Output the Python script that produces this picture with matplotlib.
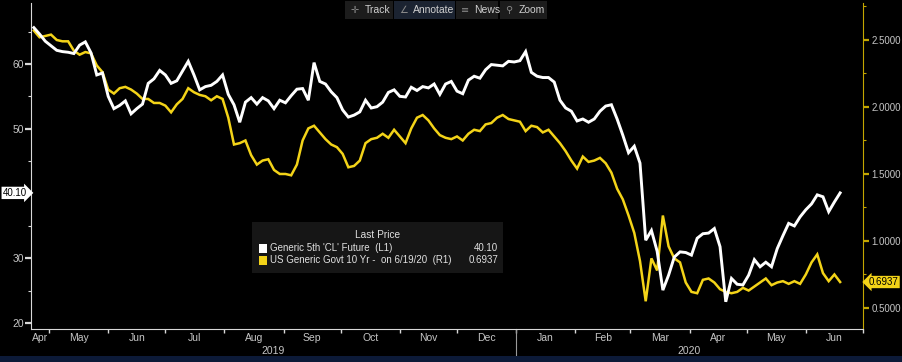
import numpy as np
import pandas as pd
import matplotlib
matplotlib.use('Agg')
import matplotlib.pyplot as plt
import matplotlib.dates as mdates
import matplotlib.transforms as mtransforms
from matplotlib.patches import Rectangle

# one reading every third day, last one on 6/19/20
dates = pd.date_range(end='2020-06-19', periods=142, freq='3D')

cl_future = [
    65.6, 64.6, 63.5, 62.8, 62.1, 61.9, 61.8, 61.6, 62.9, 63.4,
    61.7, 58.3, 58.6, 55.0, 53.1, 53.6, 54.3, 52.3, 53.1, 53.8,
    57.0, 57.7, 59.0, 58.3, 57.0, 57.4, 58.9, 60.4, 58.3, 56.0,
    56.5, 56.7, 57.3, 58.3, 55.3, 53.7, 51.0, 54.1, 54.8, 53.8,
    54.8, 54.3, 53.1, 54.4, 54.0, 55.1, 56.1, 56.2, 54.4, 60.2,
    57.3, 56.9, 55.7, 54.8, 52.9, 51.8, 52.1, 52.6, 54.4, 53.2,
    53.4, 54.1, 55.6, 56.0, 55.0, 54.9, 56.4, 55.9, 56.5, 56.3,
    56.9, 55.3, 56.9, 57.3, 55.8, 55.4, 57.5, 58.1, 57.8, 59.1,
    59.9, 59.8, 59.7, 60.4, 60.3, 60.5, 61.9, 58.7, 58.1, 57.9,
    57.9, 57.2, 54.4, 53.2, 52.7, 51.2, 51.5, 51.0, 51.5, 52.7,
    53.5, 53.7, 51.5, 49.0, 46.3, 47.3, 44.7, 32.8, 34.3, 31.1,
    25.1, 27.4, 30.2, 31.0, 30.9, 30.5, 33.1, 33.8, 33.9, 34.6,
    31.8, 23.3, 26.9, 26.0, 25.9, 27.4, 29.8, 28.7, 29.4, 28.7,
    31.5, 33.5, 35.4, 35.0, 36.4, 37.5, 38.4, 39.8, 39.5, 37.2,
    38.7, 40.10,
]

us_10yr = [
    2.57, 2.52, 2.53, 2.54, 2.50, 2.49, 2.49, 2.42, 2.39, 2.41,
    2.40, 2.31, 2.26, 2.13, 2.10, 2.14, 2.15, 2.13, 2.10, 2.06,
    2.06, 2.03, 2.03, 2.01, 1.96, 2.02, 2.06, 2.14, 2.11, 2.09,
    2.08, 2.05, 2.08, 2.06, 1.92, 1.72, 1.73, 1.75, 1.64, 1.57,
    1.60, 1.61, 1.53, 1.50, 1.50, 1.49, 1.57, 1.75, 1.84, 1.86,
    1.81, 1.76, 1.72, 1.70, 1.65, 1.55, 1.56, 1.60, 1.73, 1.76,
    1.77, 1.80, 1.77, 1.83, 1.78, 1.73, 1.84, 1.92, 1.94, 1.90,
    1.84, 1.79, 1.77, 1.76, 1.78, 1.75, 1.80, 1.83, 1.82, 1.87,
    1.88, 1.92, 1.94, 1.91, 1.90, 1.89, 1.82, 1.86, 1.85, 1.81,
    1.83, 1.78, 1.73, 1.67, 1.60, 1.54, 1.63, 1.59, 1.60, 1.62,
    1.58, 1.51, 1.39, 1.31, 1.19, 1.06, 0.85, 0.55, 0.87, 0.78,
    1.19, 0.96, 0.87, 0.84, 0.69, 0.62, 0.61, 0.71, 0.72, 0.69,
    0.64, 0.62, 0.61, 0.62, 0.65, 0.63, 0.66, 0.69, 0.72, 0.67,
    0.69, 0.70, 0.68, 0.70, 0.68, 0.75, 0.84, 0.90, 0.76, 0.70,
    0.75, 0.6937,
]

cl_last = 40.10
yld_last = 0.6937
cl_label = "Generic 5th 'CL' Future  (L1)"
yld_label = "US Generic Govt 10 Yr -  on 6/19/20  (R1)"
left_ticks = [20, 30, 40, 50, 60]
right_ticks = [0.5, 1.0, 1.5, 2.0, 2.5]
toolbar = [('\u271b', 'Track'), ('\u2220', 'Annotate'), ('\u2261', 'News'), ('\u26b2', 'Zoom')]

WHITE = '#ffffff'
YELLOW = '#f3d318'
AXIS_YEL = '#c4a600'
GREY = '#c6c6c6'
FS = 7

plt.rcParams['font.family'] = ['Liberation Sans', 'DejaVu Sans']

W, H = 902, 362
fig = plt.figure(figsize=(W / 100, H / 100), dpi=100, facecolor='black')


def px(x, y):
    # image pixel -> figure fraction
    return x / W, 1 - y / H


ax = fig.add_axes([31 / W, 33 / H, 832 / W, 326 / H])
ax2 = ax.twinx()
ax.set_zorder(ax2.get_zorder() + 1)
ax.patch.set_visible(False)
ax2.set_facecolor('black')

ax.plot(dates, cl_future, color=WHITE, lw=2.1, solid_joinstyle='miter')
ax2.plot(dates, us_10yr, color=YELLOW, lw=1.8, solid_joinstyle='miter')

x0 = pd.Timestamp('2019-04-21 12:00')
x1 = pd.Timestamp('2020-07-01')
ax.set_xlim(x0, x1)
ax.set_ylim(19.1, 69.4)
ax2.set_ylim(0.343, 2.776)

# spines
for s in ['top', 'right']:
    ax.spines[s].set_visible(False)
for s in ['top', 'left', 'bottom']:
    ax2.spines[s].set_visible(False)
ax.spines['left'].set_color('#d8d8d8')
ax.spines['bottom'].set_color('#d8d8d8')
ax2.spines['right'].set_color(AXIS_YEL)

# left axis
ax.set_yticks(left_ticks)
ax.set_yticklabels(['' if t == 40 else str(t) for t in left_ticks])
ax.set_yticks([25, 35, 45, 55, 65], minor=True)
ax.tick_params(axis='y', which='major', length=4, width=1.6, colors='#d8d8d8',
               labelcolor=GREY, labelsize=FS + 0.5, pad=1)
ax.tick_params(axis='y', which='minor', length=2, width=0.8, colors='#d8d8d8')

# right axis
ax2.set_yticks(right_ticks)
ax2.set_yticklabels([f'{t:.4f}' for t in right_ticks])
ax2.set_yticks([0.75, 1.25, 1.75, 2.25, 2.75], minor=True)
ax2.tick_params(axis='y', which='major', length=4, width=1.6, colors=AXIS_YEL,
                labelcolor=GREY, labelsize=FS, pad=2)
ax2.tick_params(axis='y', which='minor', length=2, width=0.8, colors=AXIS_YEL)

# month ticks at boundaries, month names centred in each month
starts = pd.date_range('2019-04-01', '2020-06-01', freq='MS')
bounds = pd.date_range('2019-05-01', '2020-07-01', freq='MS')
centers = []
for s in starts:
    a = max(s, x0)
    b = min(s + pd.offsets.MonthBegin(1), x1)
    centers.append(a + (b - a) / 2)
ax.set_xticks(mdates.date2num(bounds))
ax.set_xticklabels([''] * len(bounds))
ax.set_xticks(mdates.date2num(centers), minor=True)
ax.set_xticklabels([s.strftime('%b') for s in starts], minor=True)
ax.tick_params(axis='x', which='major', length=3, width=1, colors='#d8d8d8')
ax.tick_params(axis='x', which='minor', length=0, labelcolor=GREY, labelsize=FS + 0.5, pad=3)

# years below the months
xt = ax.get_xaxis_transform()
jan = pd.Timestamp('2020-01-01')
for a, b, yr in [(x0, jan, '2019'), (jan, x1, '2020')]:
    ax.text(a + (b - a) / 2, -0.067, yr, transform=xt, ha='center', va='center',
            color=GREY, fontsize=FS + 0.5)
ax.plot([jan, jan], [0, -0.087], transform=xt, color='#9a9a9a', lw=0.8, clip_on=False)

# last value tags
lt = mtransforms.blended_transform_factory(ax.transAxes, ax.transData)
ax.text(-0.005, cl_last, f'{cl_last:.2f}', transform=lt, ha='right', va='center',
        color='black', fontsize=FS,
        bbox=dict(boxstyle='rarrow,pad=0.12', fc='white', ec='none'))
rt = mtransforms.blended_transform_factory(ax2.transAxes, ax2.transData)
ax2.text(1.007, yld_last, f'{yld_last:.4f}', transform=rt, ha='left', va='center',
         color='black', fontsize=FS,
         bbox=dict(boxstyle='larrow,pad=0.12', fc=YELLOW, ec='none'))

# legend box
lx, ly = px(252, 273)
fig.add_artist(Rectangle((lx, ly), 251 / W, 51 / H, transform=fig.transFigure,
                         fc='#161616', ec='none', zorder=5))
fig.text(*px(378, 235), 'Last Price', ha='center', va='center', color='#e0e0e0',
         fontsize=FS + 0.3, zorder=6)
for yy, col, lab, val in [(248, WHITE, cl_label, f'{cl_last:.2f}'),
                          (260, YELLOW, yld_label, f'{yld_last:.4f}')]:
    sx, sy = px(259, yy + 4.5)
    fig.add_artist(Rectangle((sx, sy), 8 / W, 9 / H, transform=fig.transFigure,
                             fc=col, ec='none', zorder=6))
    fig.text(*px(270, yy), lab, ha='left', va='center', color='#e0e0e0',
             fontsize=FS, zorder=6)
    fig.text(*px(498, yy), val, ha='right', va='center', color='#e0e0e0',
             fontsize=FS, zorder=6)

# toolbar buttons on top
bx = [(345, 393, 365, '#1c1c1c'), (394, 455, 413, '#1b2331'),
      (456, 498, 474, '#1c1c1c'), (500, 547, 519, '#1c1c1c')]
for (a, b, tx, fc), (icon, name) in zip(bx, toolbar):
    rx, ry = px(a, 19)
    fig.add_artist(Rectangle((rx, ry), (b - a) / W, 18 / H, transform=fig.transFigure,
                             fc=fc, ec='none', zorder=5))
    fig.text(*px(a + 5, 10), icon, ha='left', va='center', color='#8a8a8a',
             fontsize=7, family='DejaVu Sans', zorder=6)
    fig.text(*px(tx, 10), name, ha='left', va='center', color='#cfcfcf',
             fontsize=7.5, zorder=6)

# dark band at the very bottom
fig.add_artist(Rectangle((0, 0), 1, 6 / H, transform=fig.transFigure,
                         fc='#0c1a38', ec='none', zorder=5))

fig.savefig('out.png', dpi=100, facecolor='black')
